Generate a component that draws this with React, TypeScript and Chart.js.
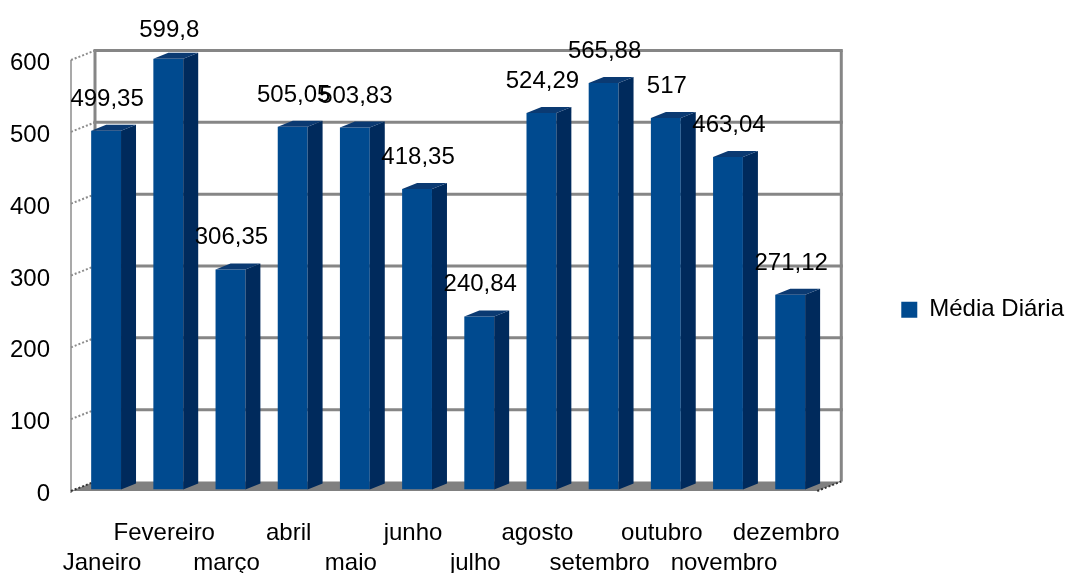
import { useEffect, useRef } from 'react';
import { Chart, registerables } from 'chart.js';

Chart.register(...registerables);

const months = ['Janeiro', 'Fevereiro', 'março', 'abril', 'maio', 'junho', 'julho', 'agosto', 'setembro', 'outubro', 'novembro', 'dezembro'];
const dailyAverage = [499.35, 599.8, 306.35, 505.05, 503.83, 418.35, 240.84, 524.29, 565.88, 517, 463.04, 271.12];
const seriesName = 'Média Diária';
const yTicks = [0, 100, 200, 300, 400, 500, 600];

const FONT = '"Liberation Sans", Arial, sans-serif';
const FRONT = { x: -4, y: 1.5 };
const BACK = { x: 20, y: -8 };
const SIDE = { x: 15, y: -6 };
const LEGEND_SHIFT = -6;

const fmt = (v: number) => String(v).replace('.', ',');

const wallPlugin = {
  id: 'wall3d',
  afterLayout(chart: any) {
    const lg = chart.legend;
    if (lg) {
      lg.top += LEGEND_SHIFT;
      lg.bottom += LEGEND_SHIFT;
    }
  },
  beforeDatasetsDraw(chart: any) {
    const { ctx, chartArea: a, scales } = chart;
    const y = scales.y;
    const left = a.left;
    const right = a.right;
    const y0 = y.getPixelForValue(0);
    const yTop = y.getPixelForValue(yTicks[yTicks.length - 1]);
    const line = (x1: number, y1: number, x2: number, y2: number) => {
      ctx.beginPath();
      ctx.moveTo(x1, y1);
      ctx.lineTo(x2, y2);
      ctx.stroke();
    };
    ctx.save();
    // floor
    ctx.fillStyle = '#808080';
    ctx.beginPath();
    ctx.moveTo(left + FRONT.x, y0 + FRONT.y);
    ctx.lineTo(right + FRONT.x, y0 + FRONT.y);
    ctx.lineTo(right + BACK.x, y0 + BACK.y);
    ctx.lineTo(left + BACK.x, y0 + BACK.y);
    ctx.closePath();
    ctx.fill();
    // back wall gridlines
    ctx.strokeStyle = '#868686';
    ctx.lineWidth = 3;
    yTicks.forEach((v) => {
      if (v === 0) return;
      const py = y.getPixelForValue(v) + BACK.y;
      line(left + BACK.x - 1.5, py, right + BACK.x + 1.5, py);
    });
    line(left + BACK.x, yTop + BACK.y, left + BACK.x, y0 + BACK.y);
    line(right + BACK.x, yTop + BACK.y, right + BACK.x, y0 + BACK.y);
    // front axis
    ctx.strokeStyle = '#8c8c8c';
    ctx.lineWidth = 1.5;
    line(left + FRONT.x, yTop + FRONT.y, left + FRONT.x, y0 + FRONT.y + 2);
    // diagonal ticks
    ctx.setLineDash([2, 2]);
    ctx.lineWidth = 2;
    yTicks.forEach((v) => {
      const p = y.getPixelForValue(v);
      ctx.strokeStyle = v === 0 ? '#333333' : '#8c8c8c';
      line(left + FRONT.x, p + FRONT.y, left + BACK.x, p + BACK.y);
    });
    ctx.strokeStyle = '#333333';
    line(right + FRONT.x, y0 + FRONT.y, right + BACK.x, y0 + BACK.y);
    ctx.restore();
  },
  afterDatasetsDraw(chart: any) {
    const { ctx } = chart;
    const meta = chart.getDatasetMeta(0);
    ctx.save();
    meta.data.forEach((bar: any) => {
      const { x, y, base, width } = bar.getProps(['x', 'y', 'base', 'width'], true);
      const l = x - width / 2;
      const r = x + width / 2;
      ctx.fillStyle = '#002a5c';
      ctx.beginPath();
      ctx.moveTo(r, y);
      ctx.lineTo(r + SIDE.x, y + SIDE.y);
      ctx.lineTo(r + SIDE.x, base + SIDE.y);
      ctx.lineTo(r, base);
      ctx.closePath();
      ctx.fill();
      ctx.fillStyle = '#0b3a72';
      ctx.beginPath();
      ctx.moveTo(l, y);
      ctx.lineTo(l + SIDE.x, y + SIDE.y);
      ctx.lineTo(r + SIDE.x, y + SIDE.y);
      ctx.lineTo(r, y);
      ctx.closePath();
      ctx.fill();
    });
    ctx.fillStyle = '#000000';
    ctx.font = `24px ${FONT}`;
    ctx.textAlign = 'center';
    ctx.textBaseline = 'alphabetic';
    meta.data.forEach((bar: any, i: number) => {
      const { x, y } = bar.getProps(['x', 'y'], true);
      ctx.fillText(fmt(dailyAverage[i]), x + 1, Math.max(y - 25, 37));
    });
    ctx.restore();
  },
};

export default function App() {
  const ref = useRef<HTMLCanvasElement | null>(null);
  useEffect(() => {
    if (!ref.current) return;
    const chart = new Chart(ref.current, {
      type: 'bar',
      data: {
        labels: months,
        datasets: [
          {
            label: seriesName,
            data: dailyAverage,
            backgroundColor: '#004a8f',
            borderWidth: 0,
            barPercentage: 0.48,
            categoryPercentage: 1,
          },
        ],
      },
      options: {
        responsive: false,
        animation: false,
        devicePixelRatio: 1,
        layout: { padding: { top: 58.5, left: 0, right: 0, bottom: 0 } },
        plugins: {
          legend: {
            position: 'right',
            labels: {
              boxWidth: 16,
              boxHeight: 16,
              padding: 80,
              color: '#000000',
              font: { family: FONT, size: 24 },
            },
          },
          tooltip: { enabled: false },
        },
        scales: {
          x: {
            grid: { display: false },
            border: { display: false },
            ticks: {
              autoSkip: false,
              maxRotation: 0,
              color: '#000000',
              font: { family: FONT, size: 24, lineHeight: 1.25 },
              padding: 20.5,
              labelOffset: -4,
              callback: (_v: any, i: number) => (i % 2 === 0 ? ['', months[i]] : [months[i]]),
            },
            afterFit: (s: any) => {
              s.height = 83.5;
            },
          },
          y: {
            min: 0,
            max: 600,
            grid: { display: false },
            border: { display: false },
            ticks: {
              stepSize: 100,
              padding: 17,
              labelOffset: 5,
              color: '#000000',
              font: { family: FONT, size: 24 },
            },
            afterFit: (s: any) => {
              s.width = 75;
            },
          },
        },
      } as any,
      plugins: [wallPlugin],
    });
    return () => chart.destroy();
  }, []);
  return (
    <div style={{ position: 'absolute', left: 0, top: 0, width: 1074, height: 573, background: '#ffffff' }}>
      <canvas ref={ref} width={1074} height={573} style={{ display: 'block' }} />
    </div>
  );
}
